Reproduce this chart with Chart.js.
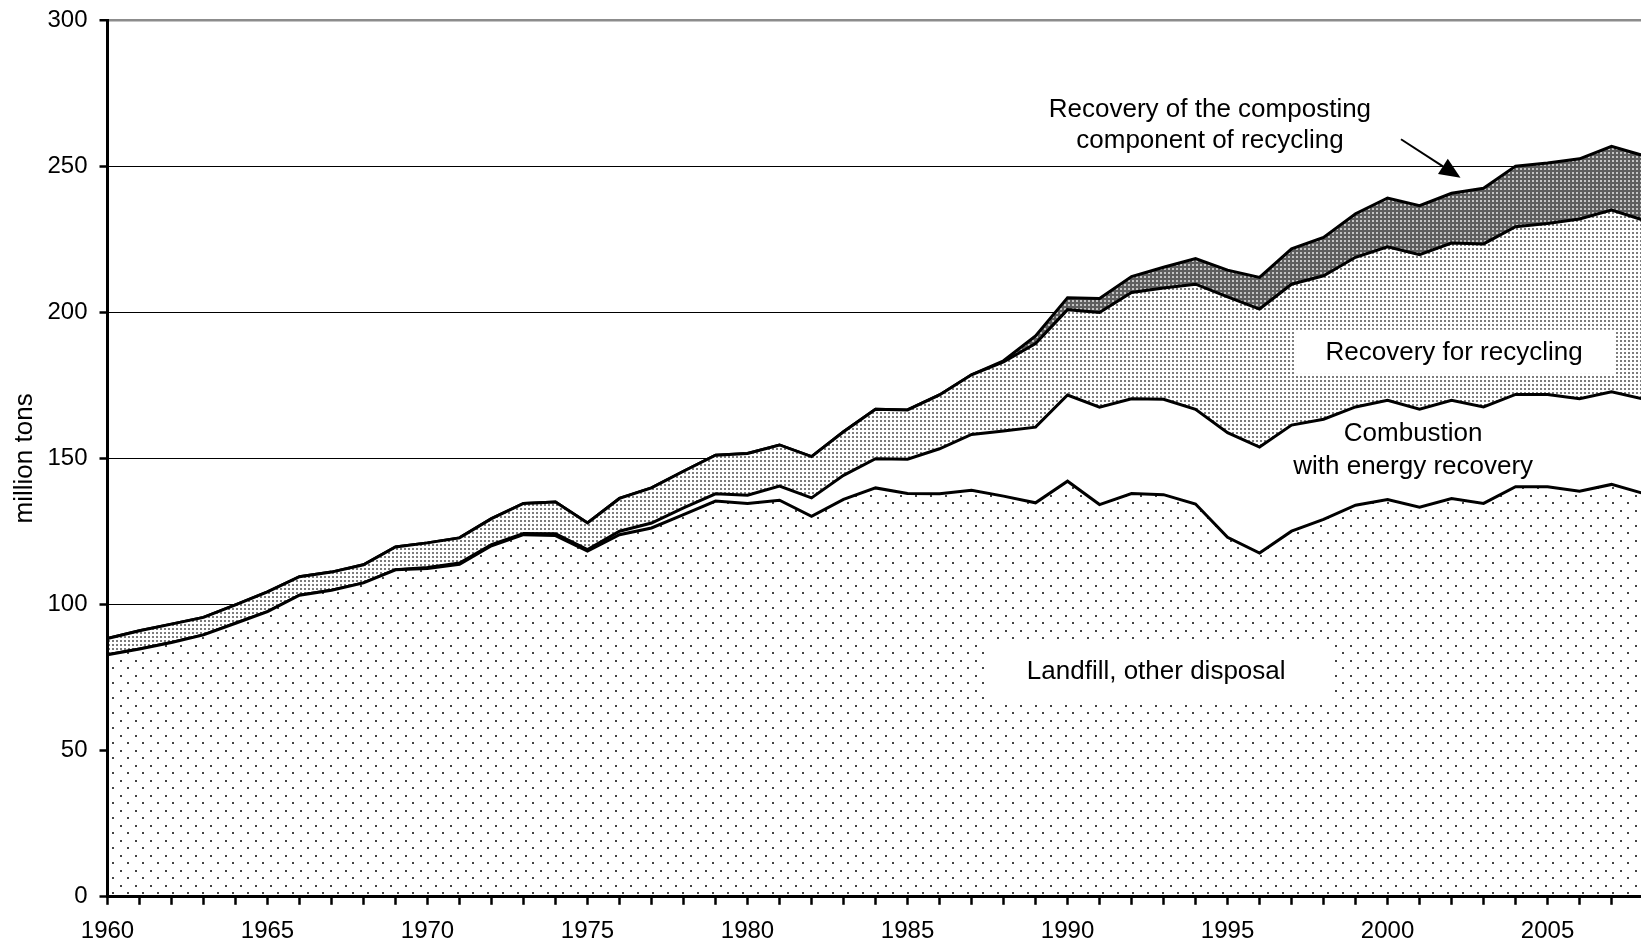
<!DOCTYPE html>
<html lang="en">
<head>
<meta charset="UTF-8">
<title>MSW management 1960-2008</title>
<script src="https://cdn.jsdelivr.net/npm/chart.js@4"></script>
<style>
  html, body { margin: 0; padding: 0; background: #fff; }
  #wrap { width: 1641px; height: 943px; position: relative; }
</style>
</head>
<body>
<div id="wrap"><canvas id="chart"></canvas></div>
<script>
// years shown on the x axis (the last point lies just past the right edge)
const years = [1960, 1961, 1962, 1963, 1964, 1965, 1966, 1967, 1968, 1969,
               1970, 1971, 1972, 1973, 1974, 1975, 1976, 1977, 1978, 1979,
               1980, 1981, 1982, 1983, 1984, 1985, 1986, 1987, 1988, 1989,
               1990, 1991, 1992, 1993, 1994, 1995, 1996, 1997, 1998, 1999,
               2000, 2001, 2002, 2003, 2004, 2005, 2006, 2007, 2008];

// million tons (stacked from the bottom)
const landfill = [82.8, 84.8, 87.0, 89.6, 93.6, 97.6, 103.2, 104.9, 107.4, 111.9,
                  112.3, 113.8, 120.1, 123.9, 123.6, 118.3, 123.9, 126.2, 130.8, 135.4,
                  134.6, 135.7, 130.2, 136.0, 139.9, 138.0, 137.9, 139.1, 137.1, 134.8,
                  142.2, 134.2, 138.0, 137.6, 134.4, 123.0, 117.6, 125.1, 129.1, 134.0,
                  135.9, 133.3, 136.3, 134.6, 140.3, 140.3, 138.8, 141.1, 138.0];
const combustion = [0, 0, 0, 0, 0, 0, 0, 0, 0, 0,
                    0.4, 0.4, 0.4, 0.4, 0.6, 0.5, 1.2, 1.7, 2.3, 2.5,
                    2.8, 4.8, 6.3, 8.2, 10.0, 11.7, 15.4, 19.1, 22.3, 25.9,
                    29.5, 33.3, 32.4, 32.6, 32.4, 35.8, 36.3, 36.3, 34.3, 33.6,
                    34.0, 33.5, 33.6, 33.0, 31.6, 31.6, 31.6, 31.7, 32.3];
const recycling = [5.6, 6.2, 6.3, 6.0, 6.3, 6.7, 6.3, 6.2, 6.2, 7.8,
                   8.4, 8.6, 8.9, 10.3, 10.9, 9.1, 11.2, 12.0, 12.5, 13.2,
                   14.3, 14.1, 14.1, 14.9, 16.9, 16.9, 18.4, 20.4, 23.6, 28.6,
                   29.2, 32.4, 36.4, 38.1, 42.8, 46.5, 47.2, 48.2, 49.1, 51.2,
                   52.5, 52.9, 53.8, 55.8, 57.4, 58.5, 61.5, 62.2, 61.2];
const composting = [0, 0, 0, 0, 0, 0, 0, 0, 0, 0,
                    0, 0, 0, 0, 0, 0, 0, 0, 0, 0,
                    0, 0, 0, 0, 0, 0, 0, 0, 0.4, 2.6,
                    4.1, 4.8, 5.4, 7.1, 8.8, 9.1, 10.8, 12.1, 13.1, 14.9,
                    16.7, 16.8, 17.0, 19.0, 20.7, 20.7, 20.6, 21.8, 22.1];

const yTicks = [0, 50, 100, 150, 200, 250, 300];
const xLabelEvery = 5;
const xMin = 1960, xMax = 2007.92;   // the picture is cut just before 2008

const FONT = '"Liberation Sans", Arial, Helvetica, sans-serif';

// hatch-like fills, built from tiny tiles
function makePattern(size, bg, dots) {
    const c = document.createElement('canvas');
    c.width = size; c.height = size;
    const g = c.getContext('2d');
    g.fillStyle = bg;
    g.fillRect(0, 0, size, size);
    dots.forEach(d => {
        g.fillStyle = d[4];
        g.fillRect(d[0], d[1], d[2], d[3]);
    });
    return g.createPattern(c, 'repeat');
}
const sparseDots = makePattern(15, '#ffffff', [[0, 0, 2, 2, '#444'], [7, 7, 2, 2, '#444']]);
const denseDots = makePattern(4, '#ffffff', [[0, 0, 2, 2, '#7c7c7c']]);
const darkDots = makePattern(4, '#5e5e5e', [[0, 0, 2, 2, '#c4c4c4']]);

function series(label, values, fill, bg) {
    return {
        label: label,
        data: years.map((yr, i) => ({x: yr, y: values[i]})),
        fill: fill,
        backgroundColor: bg,
        borderColor: '#000',
        borderWidth: 3,
        pointRadius: 0,
        tension: 0,
        stack: 'msw'
    };
}

// text boxes and arrow, placed in data units
const notes = {
    composting: {x: 1994.45, lines: [[269.3, 'Recovery of the composting'], [258.6, 'component of recycling']]},
    arrow: {from: [2000.42, 259.2], to: [2002.28, 246.0]},
    recycling: {box: [1997.14, 194.0, 2007.08, 178.9], x: 2002.08, y: 186.1, text: 'Recovery for recycling'},
    combustion: {x: 2000.8, lines: [[158.3, 'Combustion'], [147.0, 'with energy recovery']]},
    landfill: {box: [1987.42, 88.0, 1998.2, 65.8], x: 1992.77, y: 77.1, text: 'Landfill, other disposal'}
};

const annotate = {
    id: 'annotate',
    afterDatasetsDraw(chart) {
        const c = chart.ctx, xs = chart.scales.x, ys = chart.scales.y;
        const px = v => xs.getPixelForValue(v), py = v => ys.getPixelForValue(v);
        c.save();
        c.font = '26px ' + FONT;
        c.textAlign = 'center';
        c.textBaseline = 'middle';
        [notes.recycling, notes.landfill].forEach(n => {
            const b = n.box;
            c.fillStyle = '#fff';
            c.fillRect(px(b[0]), py(b[1]), px(b[2]) - px(b[0]), py(b[3]) - py(b[1]));
            c.fillStyle = '#000';
            c.fillText(n.text, px(n.x), py(n.y));
        });
        c.fillStyle = '#000';
        [notes.composting, notes.combustion].forEach(n => {
            n.lines.forEach(l => c.fillText(l[1], px(n.x), py(l[0])));
        });
        // arrow
        const x1 = px(notes.arrow.from[0]), y1 = py(notes.arrow.from[1]);
        const x2 = px(notes.arrow.to[0]), y2 = py(notes.arrow.to[1]);
        const ang = Math.atan2(y2 - y1, x2 - x1);
        const hl = 21, hw = 9;
        c.strokeStyle = '#000';
        c.lineWidth = 2;
        c.beginPath();
        c.moveTo(x1, y1);
        c.lineTo(x2 - hl * Math.cos(ang), y2 - hl * Math.sin(ang));
        c.stroke();
        c.beginPath();
        c.moveTo(x2, y2);
        c.lineTo(x2 - hl * Math.cos(ang) + hw * Math.sin(ang), y2 - hl * Math.sin(ang) - hw * Math.cos(ang));
        c.lineTo(x2 - hl * Math.cos(ang) - hw * Math.sin(ang), y2 - hl * Math.sin(ang) + hw * Math.cos(ang));
        c.closePath();
        c.fill();
        c.restore();
    }
};

new Chart(document.getElementById('chart'), {
    type: 'line',
    data: {
        datasets: [
            series('Landfill, other disposal', landfill, 'origin', sparseDots),
            series('Combustion with energy recovery', combustion, '-1', '#ffffff'),
            series('Recovery for recycling', recycling, '-1', denseDots),
            series('Recovery of the composting component of recycling', composting, '-1', darkDots)
        ]
    },
    options: {
        responsive: true,
        maintainAspectRatio: false,
        animation: false,
        events: [],
        layout: { padding: { top: 20, left: 0, right: 0, bottom: 0 } },
        plugins: {
            legend: { display: false },
            tooltip: { enabled: false }
        },
        scales: {
            x: {
                type: 'linear',
                min: xMin,
                max: xMax,
                afterBuildTicks: s => { s.ticks = years.filter(v => v <= xMax).map(v => ({value: v})); },
                afterFit: s => { s.height = 46.2; },
                ticks: {
                    autoSkip: false,
                    maxRotation: 0,
                    padding: 12,
                    color: '#000',
                    font: { family: FONT, size: 24 },
                    callback: v => (v % xLabelEvery === 0 ? String(v) : '')
                },
                grid: { drawOnChartArea: false, tickLength: 8, tickColor: '#000', tickWidth: 2.5 },
                border: { color: '#000', width: 3, z: 1 }
            },
            y: {
                stacked: true,
                min: 0,
                max: 300,
                afterBuildTicks: s => { s.ticks = yTicks.map(v => ({value: v})); },
                afterFit: s => { s.width = 107.5; s.paddingTop = 0; s.paddingBottom = 0; },
                ticks: {
                    padding: 12,
                    color: '#000',
                    font: { family: FONT, size: 24 }
                },
                grid: {
                    color: c => (c.tick && c.tick.value === 300 ? '#8c8c8c' : '#000'),
                    lineWidth: c => (c.tick && c.tick.value === 300 ? 2.5 : 1),
                    tickLength: 8,
                    tickColor: '#000',
                    tickWidth: 2.5
                },
                border: { color: '#000', width: 3, z: 1 },
                title: {
                    display: true,
                    text: 'million tons',
                    color: '#000',
                    font: { family: FONT, size: 26 },
                    padding: { top: 9, bottom: 0 }
                }
            }
        }
    },
    plugins: [annotate]
});
</script>
</body>
</html>
